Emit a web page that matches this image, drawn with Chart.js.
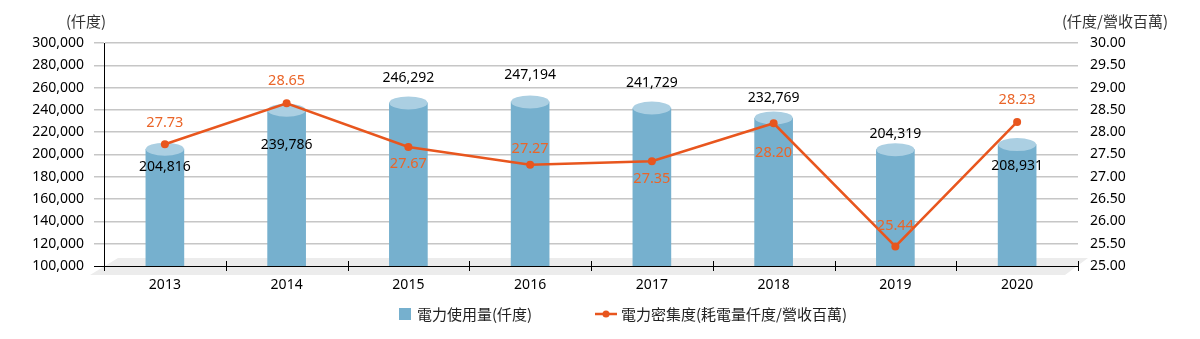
<!DOCTYPE html>
<html>
<head>
<meta charset="utf-8">
<script src="https://cdn.jsdelivr.net/npm/chart.js@4"></script>
<style>
  html, body { margin: 0; padding: 0; background: #fff; }
  #wrap { width: 1200px; height: 339px; }
</style>
</head>
<body>
<div id="wrap"><canvas id="powerChart" width="1200" height="339"></canvas></div>
<script>
// data
const years = ["2013", "2014", "2015", "2016", "2017", "2018", "2019", "2020"];
const usage = [204816, 239786, 246292, 247194, 241729, 232769, 204319, 208931];
const intensity = [27.73, 28.65, 27.67, 27.27, 27.35, 28.20, 25.44, 28.23];

const usageLabel = "電力使用量(仟度)";
const intensityLabel = "電力密集度(耗電量仟度/營收百萬)";
const leftTitle = "(仟度)";
const rightTitle = "(仟度/營收百萬)";

// label nudges (px, relative to the mark)
const usageLabelShift = [18, 35, -25, -27, -25, -20, -16, 21];
const intensityLabelShift = [-21, -22, 17, -16, 18, 30, -21, -22];

const BAR_BLUE = "#76b0ce";
const BAR_TOP = "#abcfe2";
const ORANGE = "#e8561e";
const GRID = "#c6c6c6";
const NUM_FONT = '"Noto Sans", sans-serif';
const CJK_FONT = '"Noto Sans CJK TC", "Noto Sans", sans-serif';

Chart.defaults.font.family = NUM_FONT;
Chart.defaults.font.size = 14;
Chart.defaults.color = "#111";

const decorPlugin = {
  id: "decor",
  beforeDraw(chart) {
    const { ctx, chartArea: a } = chart;
    // pale floor under the plot
    ctx.save();
    ctx.fillStyle = "#ececec";
    ctx.beginPath();
    ctx.moveTo(a.left + 14, a.bottom - 8);
    ctx.lineTo(a.right + 10, a.bottom - 8);
    ctx.lineTo(a.right - 13, a.bottom + 9);
    ctx.lineTo(a.left - 14, a.bottom + 9);
    ctx.closePath();
    ctx.fill();
    ctx.restore();
  },
  beforeDatasetsDraw(chart) {
    const { ctx, chartArea: a } = chart;
    const step = (a.right - a.left) / years.length;
    ctx.save();
    ctx.strokeStyle = "#000";
    ctx.lineWidth = 1;
    ctx.beginPath();
    for (let i = 0; i <= years.length; i++) {
      const x = Math.round(a.left + step * i) + 0.5;
      ctx.moveTo(x, a.bottom - 5);
      ctx.lineTo(x, a.bottom + 5);
    }
    ctx.stroke();
    ctx.restore();
  },
  afterDatasetDraw(chart, args) {
    if (args.index !== 0) return;
    const { ctx } = chart;
    const meta = chart.getDatasetMeta(0);
    ctx.save();
    meta.data.forEach(bar => {
      const rx = bar.width / 2, ry = 6.5;
      ctx.fillStyle = BAR_BLUE;
      ctx.beginPath();
      ctx.ellipse(bar.x, bar.base, rx, ry, 0, 0, Math.PI * 2);
      ctx.fill();
      ctx.fillStyle = BAR_TOP;
      ctx.beginPath();
      ctx.ellipse(bar.x, bar.y, rx, ry, 0, 0, Math.PI * 2);
      ctx.fill();
    });
    ctx.restore();
  },
  afterDatasetsDraw(chart) {
    const { ctx } = chart;
    ctx.save();
    ctx.textAlign = "center";
    ctx.textBaseline = "middle";
    ctx.font = "14px " + NUM_FONT;
    ctx.fillStyle = "#000";
    chart.getDatasetMeta(0).data.forEach((bar, i) => {
      ctx.fillText(usage[i].toLocaleString("en-US"), bar.x, bar.y + usageLabelShift[i]);
    });
    ctx.font = "14.5px " + NUM_FONT;
    ctx.fillStyle = "#ea6529";
    chart.getDatasetMeta(1).data.forEach((pt, i) => {
      ctx.fillText(intensity[i].toFixed(2), pt.x, pt.y + intensityLabelShift[i]);
    });
    ctx.restore();
  },
  afterDraw(chart) {
    const { ctx } = chart;
    ctx.save();
    ctx.textBaseline = "middle";
    ctx.font = "15px " + CJK_FONT;
    ctx.fillStyle = "#333";
    ctx.textAlign = "center";
    ctx.fillText(leftTitle, 86, 21);
    ctx.fillText(rightTitle, 1115, 21);

    // legend
    const ly = 314;
    ctx.textAlign = "left";
    ctx.fillStyle = BAR_BLUE;
    ctx.fillRect(399, ly - 6, 12, 12);
    ctx.fillStyle = "#222";
    ctx.fillText(usageLabel, 417, ly);
    ctx.strokeStyle = ORANGE;
    ctx.lineWidth = 2.5;
    ctx.beginPath();
    ctx.moveTo(595, ly);
    ctx.lineTo(617, ly);
    ctx.stroke();
    ctx.fillStyle = ORANGE;
    ctx.beginPath();
    ctx.arc(606, ly, 3.5, 0, Math.PI * 2);
    ctx.fill();
    ctx.fillStyle = "#222";
    ctx.fillText(intensityLabel, 621, ly);
    ctx.restore();
  }
};

new Chart(document.getElementById("powerChart"), {
  data: {
    labels: years,
    datasets: [
      {
        type: "bar",
        label: usageLabel,
        data: usage,
        yAxisID: "y",
        backgroundColor: BAR_BLUE,
        borderWidth: 0,
        barThickness: 38,
        order: 2
      },
      {
        type: "line",
        label: intensityLabel,
        data: intensity,
        yAxisID: "y1",
        borderColor: ORANGE,
        backgroundColor: ORANGE,
        borderWidth: 2.5,
        pointRadius: 4,
        pointBackgroundColor: ORANGE,
        pointBorderWidth: 0,
        tension: 0,
        order: 1
      }
    ]
  },
  options: {
    responsive: false,
    animation: false,
    devicePixelRatio: 1,
    layout: { padding: { top: 43, left: 0, right: 0, bottom: 0 } },
    plugins: {
      legend: { display: false },
      tooltip: { enabled: false }
    },
    scales: {
      x: {
        grid: { display: true, drawOnChartArea: false, drawTicks: false },
        border: { display: true, color: "#000", width: 1 },
        ticks: { padding: 11, color: "#000", font: { size: 14 } },
        afterFit(scale) { scale.height = 73; }
      },
      y: {
        position: "left",
        min: 100000,
        max: 300000,
        ticks: {
          stepSize: 20000,
          padding: 10,
          color: "#000",
          callback: v => v.toLocaleString("en-US")
        },
        grid: {
          color: c => c.tick && c.tick.value === 100000 ? "#000" : GRID,
          tickColor: c => c.tick && c.tick.value === 100000 ? "#000" : GRID,
          lineWidth: c => c.tick && c.tick.value === 100000 ? 1 : 1.5,
          tickLength: 10
        },
        border: { display: true, color: "#000", width: 1 },
        afterFit(scale) { scale.width = 104; }
      },
      y1: {
        position: "right",
        min: 25,
        max: 30,
        ticks: {
          stepSize: 0.5,
          padding: 12,
          color: "#000",
          callback: v => Number(v).toFixed(2)
        },
        grid: { drawOnChartArea: false, drawTicks: false },
        border: { display: false },
        afterFit(scale) { scale.width = 122; }
      }
    }
  },
  plugins: [decorPlugin]
});
</script>
</body>
</html>
